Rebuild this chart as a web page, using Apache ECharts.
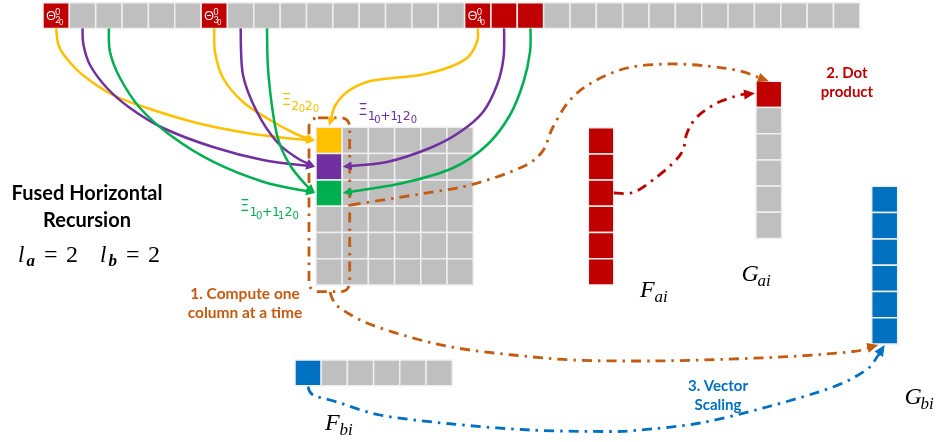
<!DOCTYPE html>
<html><head><meta charset="utf-8">
<script src="https://cdn.jsdelivr.net/npm/echarts@6/dist/echarts.min.js"></script>
<style>html,body{margin:0;padding:0;background:#fff}#c{width:941px;height:442px}</style>
</head><body><div id="c"></div>
<script>
// ---------------- data ----------------
const stripLength = 31;
const stripRedCells = [0, 6, 16, 17, 18];
const thetaCells = [0, 6, 16];
const thetaSubscripts = ['2', '3', '4'];
const matrixRows = 6;
const matrixCols = 6;
const activeRows = [0, 1, 2];                       // rows of column 0 being computed
const sourceGroups = [[0, 1, 2], [6, 7, 8], [16, 17, 18]]; // strip cells feeding rows 0,1,2
const faiCells = [1, 1, 1, 1, 1, 1];
const gaiCells = [1, 0, 0, 0, 0, 0];
const gbiCells = [1, 1, 1, 1, 1, 1];
const fbiCells = [1, 0, 0, 0, 0, 0];
const titleLines = ['Fused Horizontal', 'Recursion'];
const step1Lines = ['1. Compute one', 'column at a time'];
const step2Lines = ['2. Dot', 'product'];
const step3Lines = ['3. Vector', 'Scaling'];
const xiYellow = [['Ξ', 0], ['2', 1], ['0', 2], ['2', 1], ['0', 2]];
const xiMixed = [['Ξ', 0], ['1', 1], ['0', 2], ['+', 1], ['1', 1], ['1', 2], ['2', 1], ['0', 2]];

// ---------------- layout / style ----------------
const W = 941, H = 442;
const C = {red: '#C00000', gray: '#BFBFBF', blue: '#0070C0', yellow: '#FFC000', purple: '#7030A0',
  green: '#00B050', orange: '#C55A11', border: '#EFEFEF', white: '#FFFFFF'};
const FILLS = [C.gray, C.red, C.blue, C.yellow, C.purple, C.green];
const rowFill = [3, 4, 5];
const LY = {
  strip: {x: 43, y: 2.7, w: 26.35, h: 25.7},
  matrix: {x: 316, y: 127.3, w: 26.2, h: 26.3},
  fai: {x: 588.3, y: 127.7, w: 25.5, h: 26.2},
  gai: {x: 756, y: 81.3, w: 25.7, h: 26.2},
  gbi: {x: 871.7, y: 186.3, w: 26, h: 26.3},
  fbi: {x: 295, y: 360, w: 26.2, h: 25.7}
};
const SANS = 'Lato, "Open Sans", "Noto Sans", sans-serif';
const SERIF = '"Liberation Serif", "DejaVu Serif", serif';

// ---------------- cells ----------------
const cells = [];
for (let i = 0; i < stripLength; i++) {
  cells.push([LY.strip.x + i * LY.strip.w, LY.strip.y, LY.strip.w, LY.strip.h, stripRedCells.includes(i) ? 1 : 0]);
}
for (let r = 0; r < matrixRows; r++) for (let c = 0; c < matrixCols; c++) {
  const k = (c === 0) ? activeRows.indexOf(r) : -1;
  cells.push([LY.matrix.x + c * LY.matrix.w, LY.matrix.y + r * LY.matrix.h, LY.matrix.w, LY.matrix.h, k >= 0 ? rowFill[k] : 0]);
}
function vcol(arr, g, on) { arr.forEach((v, i) => cells.push([g.x, g.y + i * g.h, g.w, g.h, v ? on : 0])); }
function vrow(arr, g, on) { arr.forEach((v, i) => cells.push([g.x + i * g.w, g.y, g.w, g.h, v ? on : 0])); }
vcol(faiCells, LY.fai, 1);
vcol(gaiCells, LY.gai, 1);
vcol(gbiCells, LY.gbi, 2);
vrow(fbiCells, LY.fbi, 2);

// ---------------- curves ----------------
const stripBottom = LY.strip.y + LY.strip.h;
const srcX = i => LY.strip.x + (i + 0.5) * LY.strip.w;
const rowY = r => LY.matrix.y + (r + 0.5) * LY.matrix.h;
const mL = LY.matrix.x - 1, mR = LY.matrix.x + LY.matrix.w + 0.5;
const DASH = [10, 6, 2.5, 6];
const CURVES = [
  // group 1 (Θ2)
  {color: C.yellow, pts: [[srcX(sourceGroups[0][0]), stripBottom], [58.5, 45], [67, 59], [84, 76], [113, 95], [147, 108], [197, 123], [247, 133], [290, 138.5], [mL, rowY(0)]]},
  {color: C.purple, pts: [[srcX(sourceGroups[0][1]), stripBottom], [83.5, 45], [90, 65], [107, 88], [130, 108], [163, 128], [213, 147], [263, 160], [mL, rowY(1)]]},
  {color: C.green, pts: [[srcX(sourceGroups[0][2]), stripBottom], [110, 52], [120, 78], [140, 108], [170, 135], [213, 161.7], [263, 181.7], [mL, rowY(2)]]},
  // group 2 (Θ3)
  {color: C.yellow, pts: [[srcX(sourceGroups[1][0]), stripBottom], [215, 52], [223, 78], [243, 102], [270, 120], [297, 134.5], [mL, rowY(0)]]},
  {color: C.purple, pts: [[srcX(sourceGroups[1][1]), stripBottom], [243, 75], [257, 112], [277, 142], [297, 158], [mL, rowY(1)]]},
  {color: C.green, pts: [[srcX(sourceGroups[1][2]), stripBottom], [268.5, 75], [277, 135], [290, 165], [306, 185], [mL, rowY(2)]]},
  // group 3 (Θ4)
  {color: C.yellow, pts: [[srcX(sourceGroups[2][0]), stripBottom], [477, 42], [467, 58], [447, 68], [420, 75], [393, 78], [367, 82], [347, 92], [335, 106], [LY.matrix.x + 0.5 * LY.matrix.w, LY.matrix.y - 1.5]]},
  {color: C.purple, pts: [[srcX(sourceGroups[2][1]), stripBottom], [503.5, 58], [497, 85], [483, 112], [460, 132], [430, 148], [387, 162], [mR, rowY(1)]]},
  {color: C.green, pts: [[srcX(sourceGroups[2][2]), stripBottom], [530, 52], [523.5, 82], [510, 115], [487, 145], [453, 168], [403, 183], [mR, rowY(2)]]},
  // step 2 : matrix column -> G_ai (orange)
  {color: C.orange, dash: DASH, lw: 2.8, al: 11, aw: 10, pts: [[351, 205], [420, 194], [470, 185], [520, 168], [542, 152], [553, 127], [570, 100], [593, 82], [627, 68], [667, 64], [707, 66], [740, 71], [LY.gai.x + 0.5 * LY.gai.w, LY.gai.y]]},
  // step 2 : F_ai -> G_ai (red)
  {color: C.red, dash: DASH, lw: 2.8, al: 11, aw: 10, pts: [[LY.fai.x + LY.fai.w, 193], [633, 192.5], [653, 180], [673, 163], [683, 150], [687, 133], [697, 117], [717, 103], [740, 95], [LY.gai.x - 1, LY.gai.y + 12]]},
  // step 1 -> G_bi (orange)
  {color: C.orange, dash: DASH, lw: 2.8, al: 11, aw: 10, pts: [[330, 292], [333, 300], [340, 308], [367, 323], [413, 338], [457, 348], [513, 355], [573, 360], [640, 361], [700, 360], [787, 356.7], [853, 351.5], [LY.gbi.x + 6.5, LY.gbi.y + 6 * LY.gbi.h + 1]]},
  // step 3 : F_bi -> G_bi (blue)
  {color: C.blue, dash: DASH, lw: 2.8, al: 11, aw: 10, pts: [[LY.fbi.x + 13, LY.fbi.y + LY.fbi.h + 1], [313, 395], [337, 402], [380, 415], [447, 423.5], [530, 430], [610, 431.5], [640, 430], [700, 423], [767, 407], [833, 387], [866, 370], [877, 357], [LY.gbi.x + 13, LY.gbi.y + 6 * LY.gbi.h + 1]]}
];

function crPath(P) {
  let d = 'M' + P[0][0] + ',' + P[0][1];
  for (let i = 0; i < P.length - 1; i++) {
    const p0 = P[i - 1] || P[i], p1 = P[i], p2 = P[i + 1], p3 = P[i + 2] || P[i + 1];
    const c1 = [p1[0] + (p2[0] - p0[0]) / 6, p1[1] + (p2[1] - p0[1]) / 6];
    const c2 = [p2[0] - (p3[0] - p1[0]) / 6, p2[1] - (p3[1] - p1[1]) / 6];
    d += ' C' + c1[0] + ',' + c1[1] + ' ' + c2[0] + ',' + c2[1] + ' ' + p2[0] + ',' + p2[1];
  }
  return d;
}

// ---------------- texts ----------------
const TEXTS = [];
function T(t, x, y, size, color, opt) {
  TEXTS.push(Object.assign({t: t, x: x, y: y, size: size, color: color, family: SANS, weight: 'normal', style: 'normal', align: 'left'}, opt || {}));
}
titleLines.forEach((s, i) => T(s, 87, 194 + i * 27, 20, '#000', {weight: 'bold', align: 'center'}));
step1Lines.forEach((s, i) => T(s, 245, 294 + i * 19, 15.5, C.orange, {weight: 'bold', align: 'center'}));
step2Lines.forEach((s, i) => T(s, 847, 73 + i * 19.5, 15, C.red, {weight: 'bold', align: 'center'}));
step3Lines.forEach((s, i) => T(s, 718, 386 + i * 19.5, 15, C.blue, {weight: 'bold', align: 'center'}));
// Θ labels
thetaCells.forEach((ci, k) => {
  const x0 = LY.strip.x + ci * LY.strip.w;
  T('Θ', x0 + 3, 16, 13, C.white, {family: '"Open Sans", sans-serif'});
  T('0', x0 + 12.3, 12, 8.5, C.white);
  T(thetaSubscripts[k], x0 + 12.3, 19.8, 9, C.white);
  T('0', x0 + 16.2, 23.2, 7, C.white);
});
// Ξ labels
function xiLabel(tokens, offs, x0, yc, color) {
  tokens.forEach((tk, i) => {
    const lvl = tk[1];
    const size = [15, 12.5, 10][lvl];
    const dy = [0, 5.5, 8.5][lvl];
    T(tk[0], x0 + offs[i], yc + dy, size, color, {family: '"DejaVu Sans", sans-serif'});
  });
}
xiLabel(xiYellow, [0, 9.5, 17, 23, 31], 281.7, 101, C.yellow);
xiLabel(xiMixed, [0, 9.5, 16, 22, 32, 38, 44.5, 52.5], 358.3, 111.5, C.purple);
xiLabel(xiMixed, [0, 9.5, 16, 22, 32, 38, 44.5, 52.5], 240, 207.5, C.green);
// math labels
function mathLabel(main, sub, x, baseline, size, subSize, subW) {
  T(main, x, baseline - 0.32 * size, size, '#000', {family: SERIF, style: 'italic'});
  T(sub, x + subW, baseline + 5 - 0.32 * subSize, subSize, '#000', {family: SERIF, style: 'italic'});
}
mathLabel('F', 'ai', 640, 298, 24, 17, 14.5);
mathLabel('G', 'ai', 741.5, 282, 24, 17, 16);
mathLabel('G', 'bi', 904.5, 405, 24, 17, 16);
mathLabel('F', 'bi', 325, 431, 24, 17, 14.5);
// l_a = 2   l_b = 2
[[18, 'a'], [100, 'b']].forEach(p => {
  const x = p[0];
  T('l', x, 256, 23, '#000', {family: SERIF, style: 'italic'});
  T(p[1], x + 8.5, 262, 17, '#000', {family: SERIF, style: 'italic', weight: 'bold'});
  T('=', x + 26, 256, 24, '#000', {family: SERIF});
  T('2', x + 48, 256, 24, '#000', {family: SERIF});
});

// ---------------- chart ----------------
const chart = echarts.init(document.getElementById('c'), null, {renderer: 'canvas'});
const idx = arr => arr.map((_, i) => [i, i]);
chart.setOption({
  animation: false,
  backgroundColor: '#fff',
  grid: {left: 0, right: 0, top: 0, bottom: 0},
  xAxis: {type: 'value', min: 0, max: W, show: false},
  yAxis: {type: 'value', min: 0, max: H, inverse: true, show: false},
  series: [
    { // cells
      type: 'custom', silent: true, clip: false, data: cells,
      renderItem: (params, api) => {
        const p0 = api.coord([api.value(0), api.value(1)]);
        const p1 = api.coord([api.value(0) + api.value(2), api.value(1) + api.value(3)]);
        return {type: 'rect', shape: {x: p0[0], y: p0[1], width: p1[0] - p0[0], height: p1[1] - p0[1]},
          style: {fill: FILLS[api.value(4)], stroke: C.border, lineWidth: 1.5}};
      }
    },
    { // dashed box around the column being computed
      type: 'custom', silent: true, clip: false, data: [[0, 0]],
      renderItem: (params, api) => {
        const p0 = api.coord([LY.matrix.x - 7, LY.matrix.y - 9.5]);
        const p1 = api.coord([LY.matrix.x + LY.matrix.w + 7.5, LY.matrix.y + matrixRows * LY.matrix.h + 6.5]);
        return {type: 'rect', shape: {x: p0[0], y: p0[1], width: p1[0] - p0[0], height: p1[1] - p0[1], r: 9},
          style: {fill: 'none', stroke: C.orange, lineWidth: 2.8, lineDash: DASH}};
      }
    },
    { // curves with arrowheads
      type: 'custom', silent: true, clip: false, data: idx(CURVES),
      renderItem: (params, api) => {
        const c = CURVES[params.dataIndex];
        const pts = c.pts.map(p => api.coord(p));
        const n = pts.length, tip = pts[n - 1];
        let d = [tip[0] - pts[n - 2][0], tip[1] - pts[n - 2][1]];
        const L = Math.hypot(d[0], d[1]); d = [d[0] / L, d[1] / L];
        const al = c.al || 9, aw = c.aw || 8.5;
        const base = [tip[0] - d[0] * al, tip[1] - d[1] * al];
        const nrm = [-d[1], d[0]];
        const linePts = pts.slice(0, n - 1).concat([[tip[0] - d[0] * al * 0.7, tip[1] - d[1] * al * 0.7]]);
        return {type: 'group', children: [
          {type: 'path', shape: {pathData: crPath(linePts)},
            style: {fill: 'none', stroke: c.color, lineWidth: c.lw || 2.5, lineDash: c.dash || null, lineCap: 'butt'}},
          {type: 'polygon', shape: {points: [tip, [base[0] + nrm[0] * aw / 2, base[1] + nrm[1] * aw / 2], [base[0] - nrm[0] * aw / 2, base[1] - nrm[1] * aw / 2]]},
            style: {fill: c.color}}
        ]};
      }
    },
    { // texts
      type: 'custom', silent: true, clip: false, data: idx(TEXTS),
      renderItem: (params, api) => {
        const t = TEXTS[params.dataIndex];
        const p = api.coord([t.x, t.y]);
        return {type: 'text', style: {text: t.t, x: p[0], y: p[1], fill: t.color, align: t.align, verticalAlign: 'middle',
          font: t.style + ' ' + t.weight + ' ' + t.size + 'px ' + t.family}};
      }
    }
  ]
});
</script></body></html>
